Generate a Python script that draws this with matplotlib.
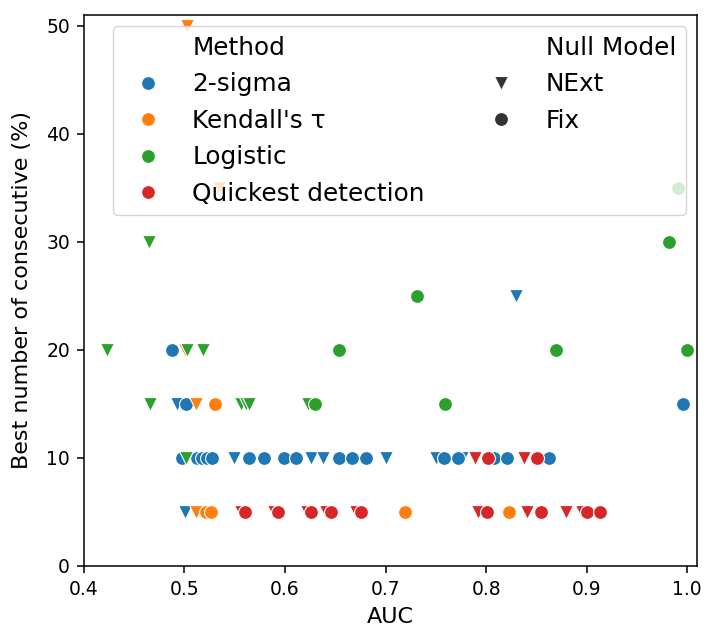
import matplotlib
matplotlib.use("Agg")
import matplotlib.pyplot as plt
from matplotlib.lines import Line2D

methods = ["2-sigma", "Kendall's τ", "Logistic", "Quickest detection"]
colors = ["#1f77b4", "#ff7f0e", "#2ca02c", "#d62728"]

# AUC / best number of consecutive (%) per method and null model
sigma_next_auc = [0.493, 0.549, 0.626, 0.638, 0.700, 0.750, 0.776, 0.830, 0.501]
sigma_next_pct = [15, 10, 10, 10, 10, 10, 10, 25, 5]
sigma_fix_auc = [0.488, 0.502, 0.996, 0.498, 0.512, 0.517, 0.522, 0.527, 0.564, 0.579,
                 0.599, 0.611, 0.654, 0.667, 0.681, 0.758, 0.772, 0.808, 0.821, 0.863]
sigma_fix_pct = [20, 15, 15, 10, 10, 10, 10, 10, 10, 10,
                 10, 10, 10, 10, 10, 10, 10, 10, 10, 10]

kendall_next_auc = [0.503, 0.534, 0.501, 0.511, 0.511]
kendall_next_pct = [50, 35, 20, 15, 5]
kendall_fix_auc = [0.530, 0.521, 0.526, 0.719, 0.823]
kendall_fix_pct = [15, 5, 5, 5, 5]

logistic_next_auc = [0.423, 0.503, 0.518, 0.466, 0.556, 0.561, 0.564, 0.623, 0.502, 0.465]
logistic_next_pct = [20, 20, 20, 15, 15, 15, 15, 15, 10, 30]
logistic_fix_auc = [0.654, 0.870, 1.000, 0.630, 0.759, 0.731, 0.982, 0.991]
logistic_fix_pct = [20, 20, 20, 15, 15, 25, 30, 35]

quick_next_auc = [0.789, 0.838, 0.556, 0.589, 0.622, 0.641, 0.671, 0.792, 0.841, 0.879, 0.895]
quick_next_pct = [10, 10, 5, 5, 5, 5, 5, 5, 5, 5, 5]
quick_fix_auc = [0.802, 0.851, 0.560, 0.593, 0.626, 0.646, 0.676, 0.801, 0.855, 0.900, 0.913]
quick_fix_pct = [10, 10, 5, 5, 5, 5, 5, 5, 5, 5, 5]

groups = [
    (sigma_next_auc, sigma_next_pct, sigma_fix_auc, sigma_fix_pct),
    (kendall_next_auc, kendall_next_pct, kendall_fix_auc, kendall_fix_pct),
    (logistic_next_auc, logistic_next_pct, logistic_fix_auc, logistic_fix_pct),
    (quick_next_auc, quick_next_pct, quick_fix_auc, quick_fix_pct),
]

fig = plt.figure(figsize=(7.05, 6.28), dpi=100)
ax = fig.add_axes([0.119, 0.099, 0.870, 0.877])

ms = 100
for (nx, ny, fx, fy), c in zip(groups, colors):
    ax.scatter(nx, ny, s=ms, marker="v", color=c, edgecolors="white", linewidths=0.8, zorder=2)
    ax.scatter(fx, fy, s=ms, marker="o", color=c, edgecolors="white", linewidths=0.8, zorder=2)

ax.set_xlim(0.4, 1.01)
ax.set_ylim(0, 51)
ax.set_xticks([0.4, 0.5, 0.6, 0.7, 0.8, 0.9, 1.0])
ax.set_yticks([0, 10, 20, 30, 40, 50])
ax.tick_params(labelsize=13.5, length=5, width=1.1, pad=5)
for sp in ax.spines.values():
    sp.set_linewidth(1.1)
ax.set_xlabel("AUC", fontsize=16, labelpad=6)
ax.set_ylabel("Best number of consecutive (%)", fontsize=16, labelpad=10)

blank = Line2D([], [], linestyle="none", marker="")
handles = [blank]
labels = ["Method"]
for m, c in zip(methods, colors):
    handles.append(Line2D([], [], linestyle="none", marker="o", markersize=10,
                          color=c, markeredgecolor="white", markeredgewidth=0.8))
    labels.append(m)
handles += [blank,
            Line2D([], [], linestyle="none", marker="v", markersize=10, color=".2",
                   markeredgecolor="white", markeredgewidth=0.8),
            Line2D([], [], linestyle="none", marker="o", markersize=10, color=".2",
                   markeredgecolor="white", markeredgewidth=0.8),
            blank, blank]
labels += ["Null Model", "NExt", "Fix", "", ""]

ax.legend(handles, labels, ncol=2, loc="upper right", fontsize=17.8,
          labelspacing=0.5, columnspacing=2.1, framealpha=0.8, borderaxespad=0.45)

fig.savefig("out.png", dpi=100)
